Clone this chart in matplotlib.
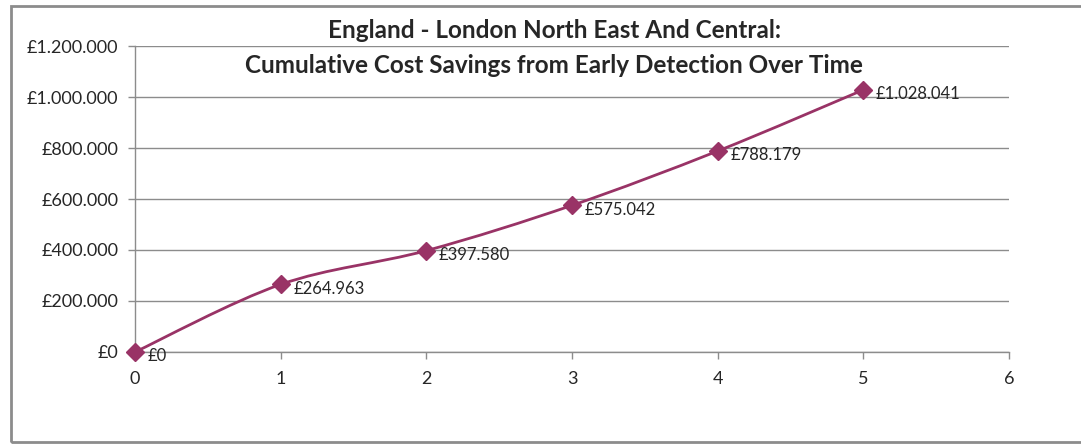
import numpy as np
import matplotlib
matplotlib.use('Agg')
import matplotlib.pyplot as plt
from matplotlib.path import Path
from matplotlib.patches import PathPatch, Rectangle
from matplotlib.ticker import FuncFormatter

plt.rcParams['font.family'] = ['Lato', 'DejaVu Sans']

years = [0, 1, 2, 3, 4, 5]
savings = [0, 264963, 397580, 575042, 788179, 1028041]
title_lines = ['England - London North East And Central:',
               'Cumulative Cost Savings from Early Detection Over Time']

line_color = '#993366'
grid_color = '#8c8c8c'
text_color = '#262626'


def money(v):
    """Format with dot as thousands separator, like the original"""
    return '£' + f'{int(round(v)):,}'.replace(',', '.')


def smooth_path(xs, ys):
    """Excel-like smoothed line: cubic Bezier through the points"""
    xs = np.asarray(xs, float)
    ys = np.asarray(ys, float)
    n = len(xs)
    verts = [(xs[0], ys[0])]
    codes = [Path.MOVETO]
    for i in range(n - 1):
        p0 = (xs[max(i - 1, 0)], ys[max(i - 1, 0)])
        p1 = (xs[i], ys[i])
        p2 = (xs[i + 1], ys[i + 1])
        p3 = (xs[min(i + 2, n - 1)], ys[min(i + 2, n - 1)])
        c1 = (p1[0] + (p2[0] - p0[0]) / 6, p1[1] + (p2[1] - p0[1]) / 6)
        c2 = (p2[0] - (p3[0] - p1[0]) / 6, p2[1] - (p3[1] - p1[1]) / 6)
        verts += [c1, c2, p2]
        codes += [Path.CURVE4] * 3
    return Path(verts, codes)


fig = plt.figure(figsize=(10.81, 4.48), dpi=100)
ax = fig.add_axes([0.1249, 0.2143, 0.8085, 0.683])

# chart frame (runs off the right edge, as in the original)
fig.patches.append(Rectangle((11 / 1081, 6 / 448), 1.2, 436 / 448,
                             transform=fig.transFigure, fill=False,
                             edgecolor='#8c8c8c', linewidth=2))

ax.add_patch(PathPatch(smooth_path(years, savings), fill=False,
                       edgecolor=line_color, linewidth=2.0, zorder=3))
ax.plot(years, savings, linestyle='none', marker='D', markersize=9,
        color=line_color, zorder=4, clip_on=False)

for x, y in zip(years, savings):
    ax.annotate(money(y), (x, y), xytext=(9, -3), textcoords='offset points',
                ha='left', va='center', fontsize=12, color=text_color)

ax.set_xlim(0, 6)
ax.set_ylim(0, 1200000)
ax.set_xticks(range(0, 7))
ax.set_yticks(range(0, 1200001, 200000))
ax.yaxis.set_major_formatter(FuncFormatter(lambda v, p: money(v)))
ax.grid(axis='y', color=grid_color, linewidth=1)
ax.set_axisbelow(True)
for side in ['top', 'right']:
    ax.spines[side].set_visible(False)
for side in ['left', 'bottom']:
    ax.spines[side].set_color(grid_color)
    ax.spines[side].set_linewidth(1)
ax.tick_params(axis='both', colors=grid_color, labelcolor=text_color,
               labelsize=13, length=5, width=1)
ax.tick_params(axis='x', pad=9)
ax.tick_params(axis='y', pad=7)

fig.text(554, 448 - 30, title_lines[0], transform=None, ha='center',
         va='center', fontsize=17.5, fontweight='bold', color=text_color)
fig.text(554, 448 - 65, title_lines[1], transform=None, ha='center',
         va='center', fontsize=17.5, fontweight='bold', color=text_color)

fig.savefig('out.png', dpi=100, facecolor='white')
